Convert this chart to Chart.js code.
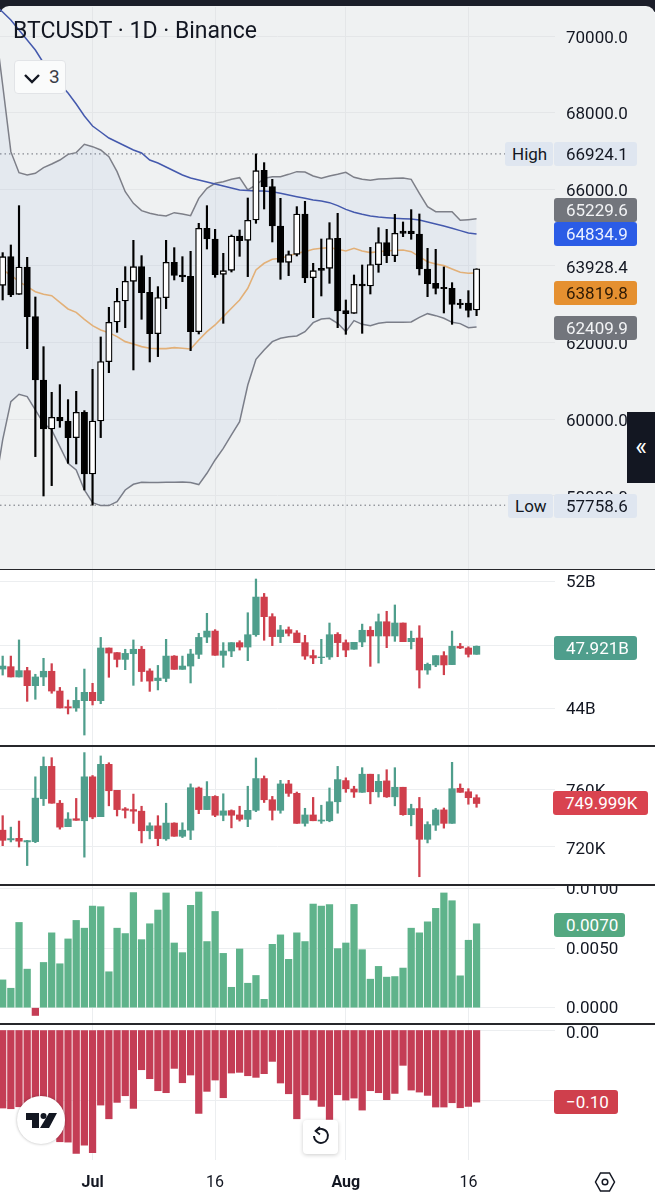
<!DOCTYPE html>
<html><head><meta charset="utf-8">
<style>
html,body{margin:0;padding:0;background:#fff;width:655px;height:1200px;overflow:hidden;font-family:Roboto,sans-serif;color:#131722}
.abs{position:absolute}
canvas{position:absolute;left:0;display:block}
.badge{position:absolute;font-size:17px;display:flex;align-items:center;justify-content:flex-start;padding-left:12px;box-sizing:border-box;height:24px}
.sep{position:absolute;left:0;width:655px;height:1.5px;background:#26272b;z-index:3}
</style>
<script src="https://cdn.jsdelivr.net/npm/chart.js@4"></script>
</head><body>
<div class="abs" style="left:0;top:0;width:655px;height:12px;background:#1b1e29"></div>
<div class="abs" style="left:0;top:6px;width:655px;height:563px;background:#eff1f2;border-radius:9px 9px 0 0"></div>
<canvas id="c1" width="655" height="562" style="top:7px"></canvas>
<canvas id="c2" width="655" height="175" style="top:570px"></canvas>
<canvas id="c3" width="655" height="138" style="top:746px"></canvas>
<canvas id="c4" width="655" height="138" style="top:885px"></canvas>
<canvas id="c5" width="655" height="176" style="top:1024px"></canvas>
<div class="sep" style="top:568.5px"></div><div class="sep" style="top:745px"></div><div class="sep" style="top:884px"></div><div class="sep" style="top:1023px"></div>
<div class="abs" id="title" style="left:13px;top:17px;font-size:23px;white-space:nowrap;z-index:4">BTCUSDT · 1D · Binance</div>
<div class="abs" style="left:14px;top:60px;width:52px;height:34px;background:#fafbfb;border:1px solid #e2e4e7;border-radius:4px;box-sizing:border-box;z-index:4">
 <svg class="abs" style="left:8px;top:8px" width="20" height="18"><path d="M2 6 L9 13 L16 6" fill="none" stroke="#131722" stroke-width="2.4"/></svg>
 <div class="abs" style="left:34px;top:4px;font-size:19px;color:#3a3d46">3</div>
</div>
<div class="abs" style="left:627px;top:412px;width:28px;height:71px;background:#131722;color:#fff;font-size:25px;display:flex;align-items:center;justify-content:center;z-index:4;padding-bottom:2px;box-sizing:border-box">«</div>
<div class="abs" style="left:17px;top:1096px;width:48px;height:48px;border-radius:50%;background:#fff;box-shadow:0 0 3px rgba(0,0,0,.3);z-index:4">
 <svg width="48" height="48"><path d="M9 17H22V32H15V24H9Z" fill="#131722"/><circle cx="26.5" cy="20" r="3" fill="#131722"/><path d="M32 17H40L32 32H23Z" fill="#131722"/></svg>
</div>
<div class="abs" style="left:303px;top:1120px;width:35px;height:34px;border-radius:4px;background:#fff;box-shadow:0 1px 4px rgba(0,0,0,.2);z-index:4">
 <svg width="35" height="34" fill="none" stroke="#131722" stroke-width="1.9"><path d="M13 11 A7 7 0 1 1 11 16"/><path d="M17 7 L12.5 11 L17 14.5" stroke-width="1.7"/></svg>
</div>
<svg class="abs" style="left:594px;top:1171px;z-index:4" width="22" height="22" fill="none" stroke="#131722" stroke-width="1.5"><path d="M6.5 2H15.5L20.5 11L15.5 20H6.5L1.5 11Z"/><circle cx="11" cy="11" r="2.8"/></svg>
<div id="badges"></div>
<script>
// Axis labels
const xTickIdx=[11,26,42,57];
const xTickLabels=['Jul','16','Aug','16'];
const priceTicks=[70000,68000,66000,64000,62000,60000,58000];
const priceTickLabels=['70000.0','68000.0','66000.0','63928.4','62000.0','60000.0','58000.0'];
const volTicks=[52,48,44];
const volTickLabels=['52B','48B','44B'];
const flowTicks=[760,720];
const flowTickLabels=['760K','720K'];
const oscTicks=[0.01,0.005,0];
const oscTickLabels=['0.0100','0.0050','0.0000'];
const negTicks=[0,-0.1];
const negTickLabels=['0.00','−0.10'];
const highLevel=66924.1, lowLevel=57758.6;

// Main price candles
const priceOpen=[63496,64243,63261,63974,62678,61026,59748,60052,59956,59522,60182,58574,59956,61504,62539,63087,63600,63982,63313,62235,63174,64096,63765,63730,62287,64983,64704,63783,63887,64783,64670,65200,66496,66070,65043,64096,64304,65356,63696,63939,63939,64722,62835,62765,63530,63478,64035,64609,64270,64913,64913,64835,63922,63548,63443,63417,63035,63035,62852];
const priceClose=[64243,63243,63974,62678,61026,59748,60052,59956,59522,60182,58574,59956,61504,62530,63078,63600,63982,63304,62235,63174,64096,63756,63713,62287,64983,64704,63774,63878,64783,64661,65191,66487,66070,65043,64096,64296,65356,63687,63878,63887,64713,62826,62756,63522,63478,64035,64609,64270,64852,64852,64843,63922,63539,63417,63409,63000,62991,62843,63928];
const priceHigh=[64348,64548,65574,64226,63191,61895,60704,60904,60513,60730,60226,61304,62148,62922,63417,63982,64670,64270,63704,63461,64670,64478,64243,64383,65113,65574,64957,64330,64809,64939,65774,66924,66696,66261,65765,64391,65548,65687,64070,64704,65130,65374,63113,63765,64026,64487,65000,64957,65348,65148,65470,65357,64461,64435,63974,63565,63130,63356,63928];
const priceLow=[63113,63200,63261,61843,59026,57999,58269,59791,58852,58834,58156,57759,59522,61217,62269,62391,61287,62609,61496,61635,62887,63635,63591,61791,62226,64443,63704,62504,63843,64252,63722,65113,65487,64626,63652,63748,64261,63565,62652,63217,63548,62391,62217,62765,62243,63269,63835,64087,64113,64765,64696,63765,63200,63269,62774,62478,62896,62669,62704];
// Indicator lines start one session before the first whole candle (off the left edge)
const bandUpper=[70417,68722,66983,66435,66374,66417,66565,66661,66765,66913,66957,67174,67113,67026,66852,66461,65939,65635,65443,65374,65330,65304,65391,65357,65313,65765,66026,66157,66200,66261,66304,65983,66113,66287,66330,66330,66391,66461,66452,66348,66287,66348,66391,66443,66313,66261,66235,66270,66278,66287,66296,66261,65896,65548,65417,65417,65417,65191,65209,65230];
const bandLower=[58155,59461,60461,60652,60591,60243,59895,59722,59287,58852,58678,58156,57826,57748,57748,57852,58156,58304,58356,58348,58348,58356,58356,58365,58348,58296,58591,58939,59243,59591,59939,60895,61565,61809,62026,62113,62156,62174,62287,62522,62617,62635,62504,62287,62574,62478,62443,62504,62530,62530,62530,62539,62661,62756,62704,62635,62530,62496,62391,62410];
const bandBasis=[64050,63896,63765,63591,63461,63330,63261,63226,63052,62878,62791,62609,62443,62330,62261,62156,62026,61965,61896,61852,61843,61843,61870,61852,61835,62070,62287,62461,62678,62896,63113,63417,63896,64070,64174,64200,64261,64330,64374,64435,64461,64478,64435,64391,64461,64391,64348,64374,64391,64409,64417,64374,64243,64113,64052,64009,63922,63835,63809,63820];
const blueAverage=[70809,70626,70417,70157,69896,69635,69296,69035,68748,68513,68226,67913,67652,67496,67339,67234,67130,67026,66948,66765,66687,66583,66478,66374,66295,66243,66191,66139,66087,66035,65983,65970,65956,65956,65939,65896,65852,65809,65765,65722,65696,65652,65574,65478,65400,65348,65304,65278,65261,65243,65235,65226,65200,65148,65096,65043,64983,64922,64861,64835];

// Second panel candles (billions)
const volOpen=[46.48,46.63,45.98,46.38,45.43,45.98,46.34,45.09,44.10,44.02,44.48,45.01,44.48,47.81,47.52,47.09,47.45,47.73,46.36,45.75,45.89,47.30,46.46,46.67,47.41,48.50,48.88,47.35,47.62,48.15,47.87,48.65,51.03,49.79,48.53,48.97,48.76,48.15,47.33,47.20,47.24,48.67,48.15,47.73,48.19,48.93,48.57,49.47,48.57,49.39,48.21,48.44,46.42,46.74,47.33,46.76,47.91,47.81,47.41];
const volClose=[46.67,45.98,46.38,45.43,45.98,46.34,45.09,44.02,44.02,44.50,45.01,44.48,47.81,47.49,47.09,47.47,47.73,46.32,45.72,45.91,47.30,46.46,46.67,47.43,48.48,48.88,47.35,47.62,48.15,47.87,48.65,51.03,49.79,48.53,48.95,48.74,48.15,47.30,47.18,47.24,48.65,48.15,47.68,48.17,48.93,48.57,49.47,48.57,49.39,48.21,48.42,46.42,46.78,47.33,46.74,47.92,47.81,47.41,47.92];
const volHigh=[47.30,47.30,48.32,46.59,46.15,47.16,46.82,45.32,44.52,45.32,46.48,45.58,48.48,47.81,47.52,47.73,48.32,47.91,46.50,46.71,48.36,47.33,47.30,47.73,48.74,50.00,48.97,48.15,48.15,48.27,50.04,52.17,51.26,49.98,49.24,49.14,48.91,48.61,47.68,48.36,49.39,48.78,48.32,48.17,49.32,49.16,49.96,50.13,50.53,49.39,48.88,49.22,46.86,47.33,47.58,48.88,48.10,47.89,47.94];
const volLow=[46.10,45.98,45.98,44.44,44.57,45.43,44.95,44.02,43.64,43.81,42.31,44.21,44.29,45.96,46.61,46.44,45.45,45.70,45.07,45.16,45.68,46.46,46.46,45.60,47.14,48.15,47.35,46.59,47.26,47.68,47.01,48.55,48.30,47.96,48.15,48.57,48.15,47.09,46.82,46.82,47.09,47.26,47.26,47.73,47.89,46.65,46.86,47.83,48.23,48.21,47.75,45.28,46.15,46.63,46.12,46.76,47.77,47.24,47.41];

// Third panel candles (thousands)
const flowOpen=[731.6,724.9,726.0,723.5,723.7,753.3,775.6,750.2,734.0,739.5,738.1,768.4,740.9,777.0,759.1,746.3,745.8,744.7,731.2,734.6,725.6,736.5,727.4,731.6,760.7,745.8,754.9,741.9,745.1,742.1,739.1,745.3,767.2,752.6,745.3,763.5,757.0,736.3,742.1,737.9,738.1,751.2,765.8,760.0,757.7,770.2,758.1,765.6,754.6,761.2,742.3,746.5,725.3,735.1,745.6,736.3,760.5,758.1,754.0];
const flowClose=[724.6,725.8,724.0,724.4,753.7,775.6,750.2,733.7,739.3,738.4,768.4,740.7,777.0,758.8,745.8,745.3,744.7,731.2,734.6,725.8,736.5,727.4,731.6,760.9,745.8,754.9,741.9,744.9,741.9,739.1,745.3,767.2,752.6,745.3,763.5,757.0,736.3,742.1,738.1,738.6,751.2,766.5,760.2,757.9,770.2,758.1,765.3,754.6,761.2,742.3,746.5,725.3,735.5,745.6,736.3,760.2,757.7,754.0,750.0];
const flowHigh=[741.6,733.7,737.9,724.6,768.4,782.1,781.6,752.1,743.7,753.5,785.1,769.3,782.8,778.1,759.1,747.2,756.5,748.1,736.7,741.6,750.2,736.7,736.7,763.5,761.4,765.1,755.4,756.7,745.6,748.1,761.9,781.4,769.0,754.9,766.0,766.0,757.9,746.7,754.2,748.8,760.7,775.6,767.7,761.9,774.7,770.2,770.0,773.3,774.7,761.2,749.5,754.2,737.4,746.7,746.9,778.4,763.5,760.2,756.0];
const flowLow=[720.9,723.5,720.0,707.2,723.0,748.6,750.2,732.3,734.0,738.4,713.0,739.5,740.9,748.4,741.4,740.0,736.3,722.8,725.6,720.9,724.6,727.4,726.5,725.1,743.0,745.8,740.9,738.1,733.2,737.9,734.0,744.4,750.7,738.6,743.3,754.9,736.3,734.4,738.1,736.3,737.4,743.3,757.7,754.2,757.7,749.8,754.4,754.2,748.4,741.9,734.6,699.5,722.8,731.4,733.0,736.3,757.7,749.5,747.4];

// Oscillator bars
const oscValues=[0.00233,0.00163,0.00714,0.00323,-0.00065,0.00379,0.00627,0.00368,0.00576,0.00731,0.00666,0.00851,0.00846,0.00301,0.00666,0.00621,0.00964,0.0057,0.00703,0.00818,0.00961,0.00542,0.00461,0.00857,0.00969,0.00554,0.00806,0.00455,0.00171,0.00492,0.00205,0.0027,0.0007,0.00531,0.0061,0.00405,0.00627,0.00554,0.00868,0.00851,0.00863,0.00495,0.00542,0.00865,0.00486,0.00239,0.00346,0.00256,0.00261,0.00332,0.00666,0.00627,0.00719,0.00832,0.00961,0.00896,0.00267,0.00565,0.00703];
const negValues=[-0.1104,-0.1114,-0.1086,-0.118,-0.1274,-0.1369,-0.151,-0.1581,-0.1586,-0.1746,-0.1628,-0.1737,-0.1062,-0.1256,-0.1024,-0.093,-0.1109,-0.0562,-0.0689,-0.0859,-0.0887,-0.0543,-0.0746,-0.0637,-0.118,-0.0868,-0.0708,-0.0958,-0.0609,-0.0599,-0.0647,-0.067,-0.0618,-0.0444,-0.075,-0.0902,-0.1256,-0.0916,-0.0991,-0.1081,-0.1265,-0.0916,-0.0991,-0.0963,-0.1133,-0.0859,-0.0887,-0.0986,-0.0897,-0.05,-0.085,-0.0878,-0.0925,-0.109,-0.109,-0.1029,-0.11,-0.1081,-0.102];

const xMin=-0.327, xMax=67.6;
const GRID='#eceef0', GRIDMAIN='#e4e6e8';
const TEXT='#131722', FONT='Roboto';
const GREEN='#4f9e8c', RED='#cf3f4c';
const AXIS_W=100;

function noPad(s){s.paddingTop=0;s.paddingBottom=0;s.paddingLeft=0;s.paddingRight=0;}
function xScale(showLabels,grid){
  return {type:'linear',offset:false,min:xMin,max:xMax,position:'bottom',
    afterBuildTicks:s=>{s.ticks=xTickIdx.map(v=>({value:v}));},
    afterFit:s=>{s.height=showLabels?40:0;noPad(s);},
    border:{display:false},
    grid:{color:grid,lineWidth:1,drawTicks:false,offset:false},
    ticks:{display:showLabels,autoSkip:false,maxRotation:0,padding:13,color:TEXT,
      callback:(v,i)=>xTickLabels[i],
      font:c=>({family:FONT,size:16,weight:(c.tick&&(c.tick.value===11||c.tick.value===42))?'bold':'normal'})}};
}
function yScale(min,max,ticks,labels,grid,shift){
  return {type:'linear',position:'right',min,max,
    afterBuildTicks:s=>{s.ticks=ticks.map(v=>({value:v}));},
    afterFit:s=>{s.width=AXIS_W;noPad(s);},
    border:{display:false},
    grid:{color:grid,lineWidth:1,drawTicks:false},
    ticks:{autoSkip:false,padding:11,labelOffset:shift,color:TEXT,font:{family:FONT,size:17},
      callback:(v,i)=>labels[i]}};
}
const idx=priceOpen.map((_,i)=>i);
function baseOptions(scales){
  return {responsive:false,animation:false,devicePixelRatio:1,
    layout:{padding:0},
    plugins:{legend:{display:false},tooltip:{enabled:false},title:{display:false}},
    scales};
}
function wickSet(low,high,colors,w){
  return {type:'bar',grouped:false,order:2,barThickness:w,data:idx.map(i=>({x:i,y:[low[i],high[i]]})),
    backgroundColor:colors,borderWidth:0};
}
function bodySet(open,close,fill,stroke,bw,w){
  return {type:'bar',grouped:false,order:1,barThickness:w,data:idx.map(i=>({x:i,y:[open[i],close[i]]})),
    backgroundColor:fill,borderColor:stroke,borderWidth:bw,borderSkipped:false};
}
function lineSet(vals,color,w,order,extra){
  return Object.assign({type:'line',order,data:vals.map((v,i)=>({x:i-1,y:v})),borderColor:color,borderWidth:w,
    pointRadius:0,tension:0,fill:false},extra||{});
}
const mainFill=idx.map(i=>priceClose[i]>=priceOpen[i]?'#ffffff':'#000000');
const levelEnd=61.5;
new Chart(document.getElementById('c1'),{type:'bar',data:{datasets:[
  lineSet(bandUpper,'#7d7f88',1.5,6,{fill:{target:1},backgroundColor:'rgba(33,100,200,0.05)'}),
  lineSet(bandLower,'#7d7f88',1.5,6),
  lineSet(bandBasis,'#e2b078',1.6,5),
  lineSet(blueAverage,'#4459ad',1.5,5),
  {type:'line',order:7,data:[{x:xMin,y:highLevel},{x:levelEnd,y:highLevel}],borderColor:'#6d7079',borderWidth:1,borderDash:[1.5,3],pointRadius:0},
  {type:'line',order:7,data:[{x:xMin,y:lowLevel},{x:levelEnd,y:lowLevel}],borderColor:'#6d7079',borderWidth:1,borderDash:[1.5,3],pointRadius:0},
  wickSet(priceLow,priceHigh,'#000000',1.5),
  bodySet(priceOpen,priceClose,mainFill,'#000000',1.3,6.4)
]},options:baseOptions({x:xScale(false,GRIDMAIN),y:yScale(56094,70757,priceTicks,priceTickLabels,GRIDMAIN,2.5)})});

function candleChart(id,o,h,l,c,min,max,ticks,labels,shift){
  const col=idx.map(i=>c[i]>=o[i]?GREEN:RED);
  new Chart(document.getElementById(id),{type:'bar',data:{datasets:[
    wickSet(l,h,col,1.6),
    bodySet(o,c,col,col,0,6.6)
  ]},options:baseOptions({x:xScale(false,GRID),y:yScale(min,max,ticks,labels,GRID,shift)})});
}
candleChart('c2',volOpen,volHigh,volLow,volClose,41.68,52.74,volTicks,volTickLabels,1);
candleChart('c3',flowOpen,flowHigh,flowLow,flowClose,694.48,789.66,flowTicks,flowTickLabels,3);

new Chart(document.getElementById('c4'),{type:'bar',data:{datasets:[
  {type:'bar',barThickness:6.6,data:idx.map(i=>({x:i,y:oscValues[i]})),
   backgroundColor:idx.map(i=>oscValues[i]>=0?'#5fb38b':'#c43d55')}
]},options:baseOptions({x:xScale(false,GRID),y:yScale(-0.00128,0.010276,oscTicks,oscTickLabels,GRID,1.5)})});
new Chart(document.getElementById('c5'),{type:'bar',data:{datasets:[
  {type:'bar',barThickness:6.6,data:idx.map(i=>({x:i,y:negValues[i]})),backgroundColor:'#c43d55'}
]},options:baseOptions({x:xScale(true,GRID),y:yScale(-0.1839,0.00849,negTicks,negTickLabels,GRID,4)})});

// Price tags
const tags=[
 ['High',505,48,142,'#dfe6f0',TEXT],['66924.1',554,83,142,'#dfe6f0',TEXT],
 ['65229.6',554,83,198,'#72757c','#f2f3f5'],['64834.9',554,83,222,'#2b5ce6','#eaf0ff'],
 ['63819.8',554,83,281,'#e59030','#2d1a05'],['62409.9',554,83,316,'#72757c','#f2f3f5'],
 ['Low',508,45,494,'#dfe6f0',TEXT],['57758.6',554,83,494,'#dfe6f0',TEXT],
 ['47.921B',554,83,636,'#4f9e8c','#ffffff'],['749.999K',553,95,791,'#d9434f','#ffffff'],
 ['0.0070',554,71,913,'#54a881','#ffffff'],['−0.10',554,64,1090,'#cf3f4c','#ffffff']];
const host=document.getElementById('badges');
tags.forEach(t=>{const d=document.createElement('div');d.className='badge';d.textContent=t[0];
 d.style.cssText=`left:${t[1]}px;width:${t[2]}px;top:${t[3]}px;background:${t[4]};color:${t[5]};border-radius:3px;z-index:3;padding-left:${t[2]<50?7:12}px`;
 host.appendChild(d);});
</script>
</body></html>
